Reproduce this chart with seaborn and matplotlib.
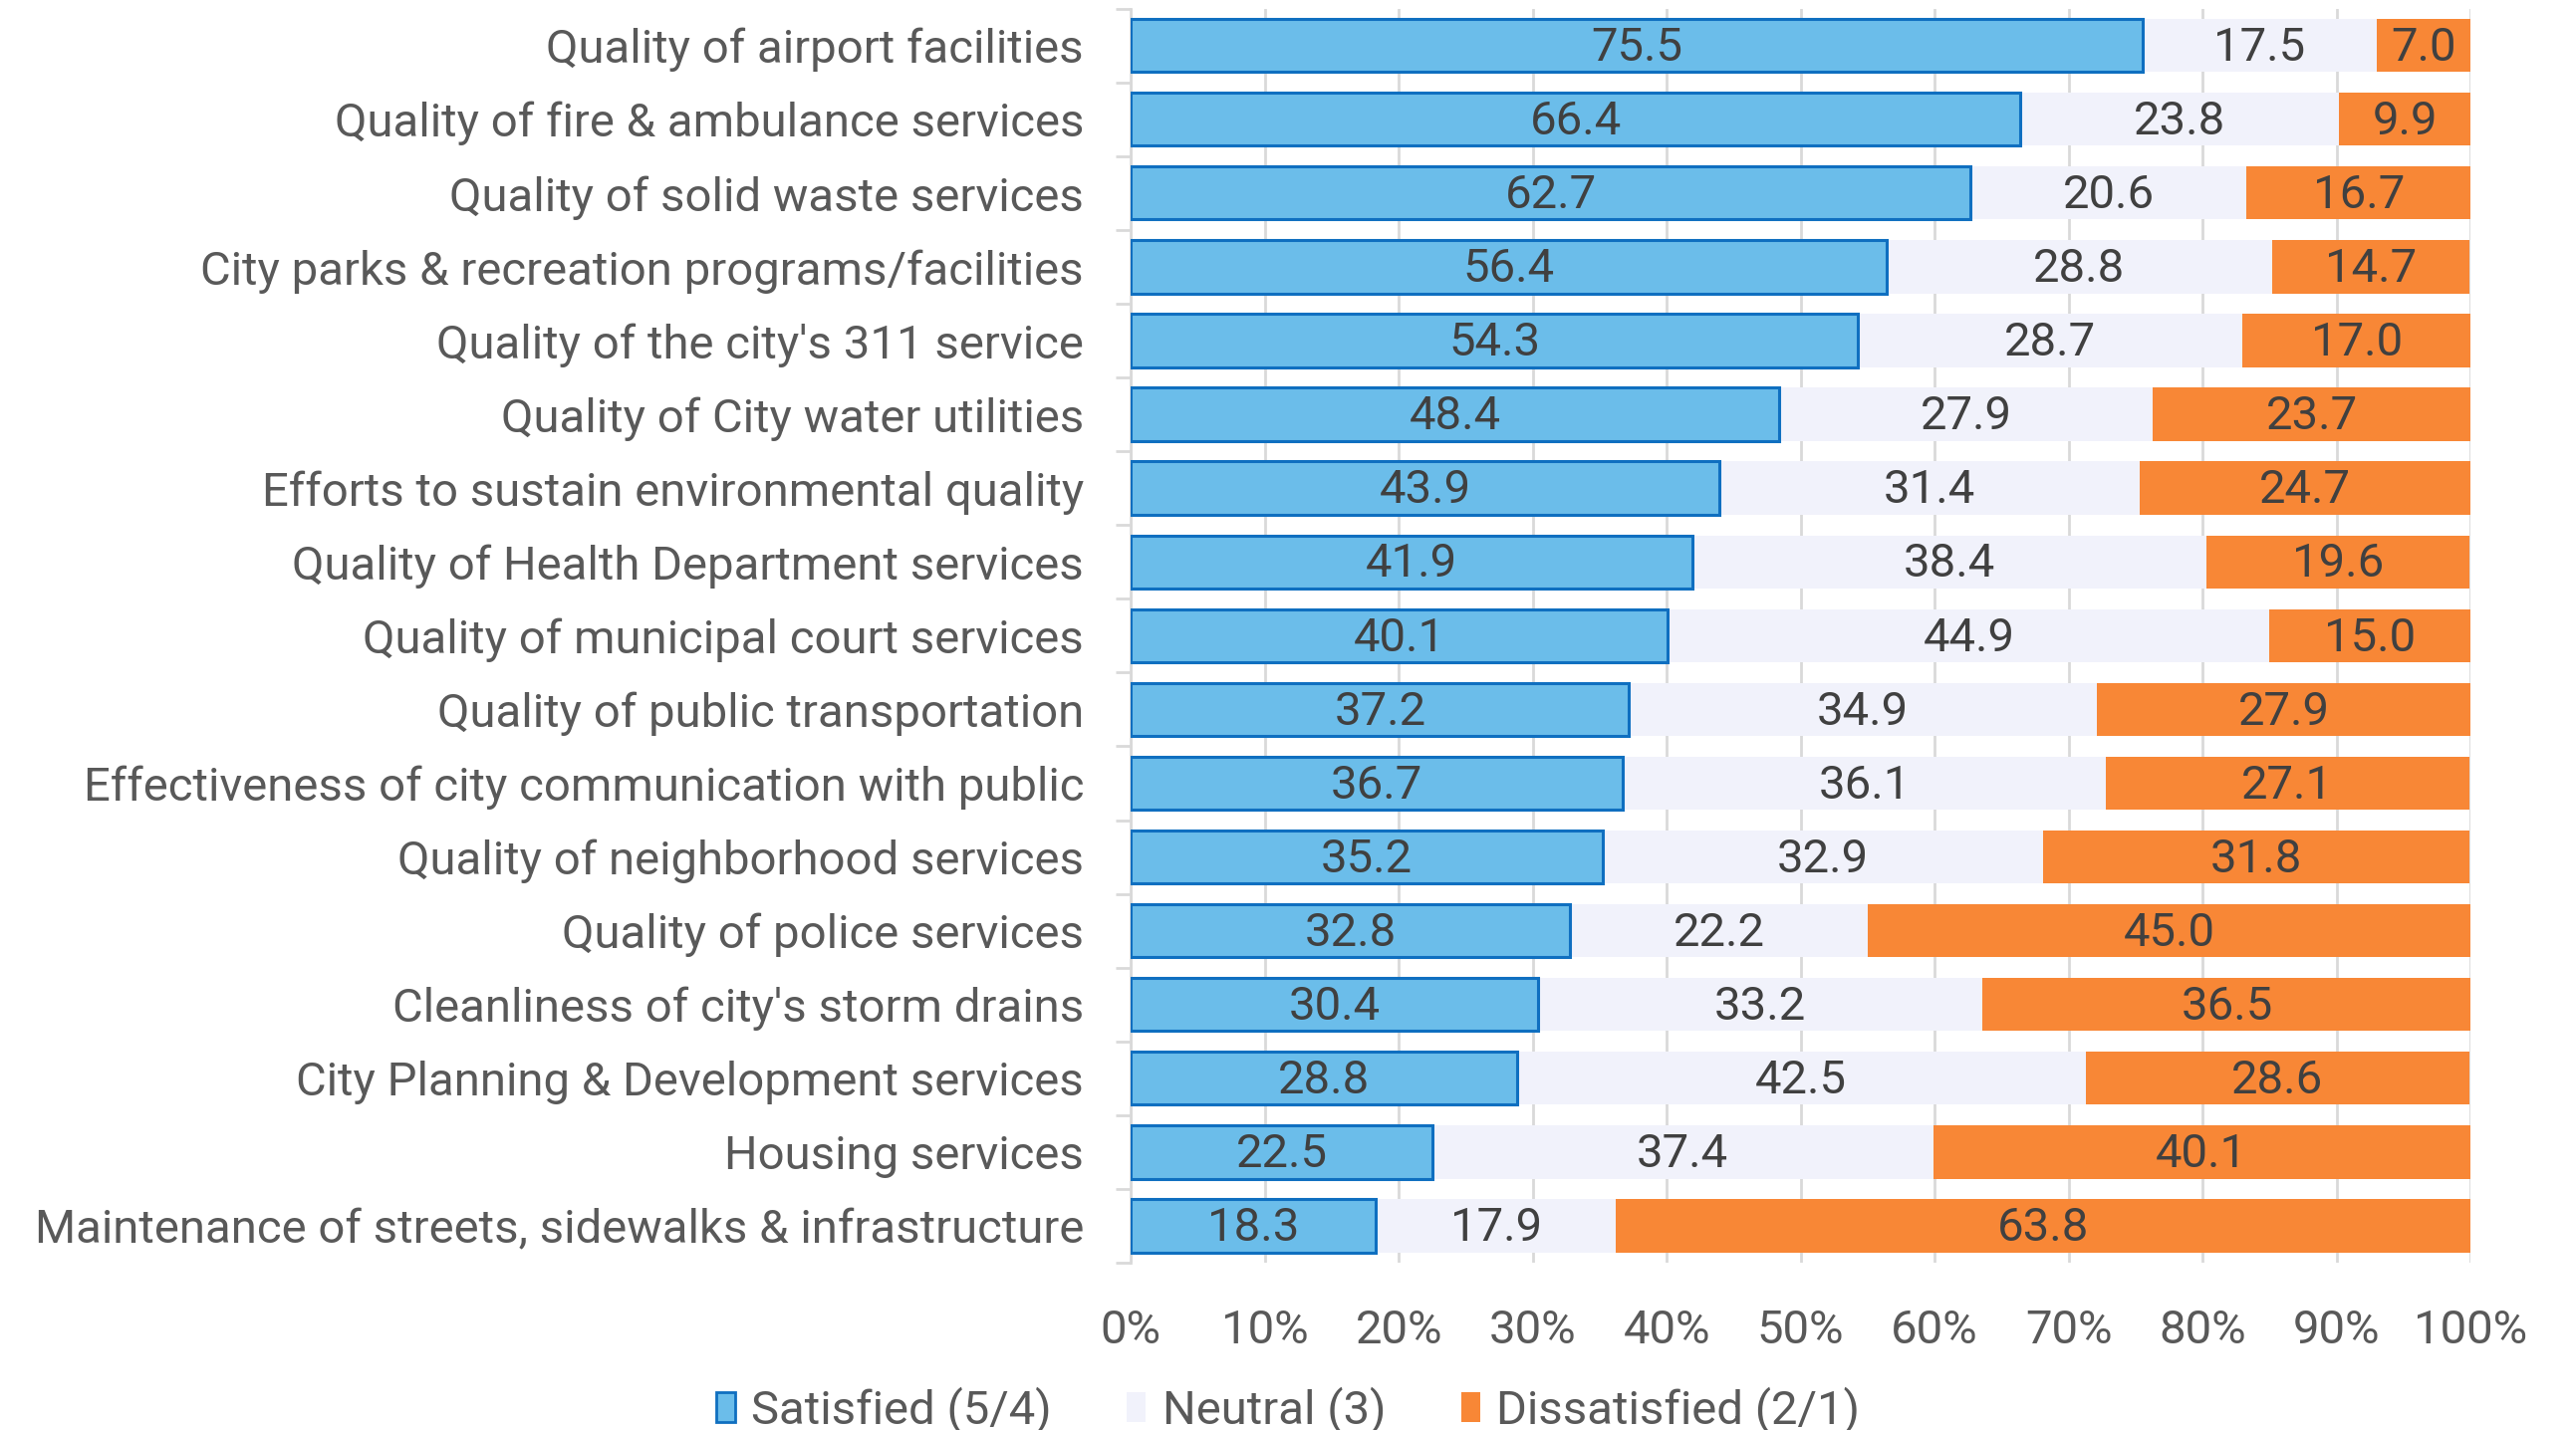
import numpy as np
import pandas as pd
import matplotlib
matplotlib.use("Agg")
import matplotlib.pyplot as plt
import seaborn as sns
from matplotlib.patches import Patch
from matplotlib.ticker import FixedLocator, PercentFormatter

# ---------------------------------------------------------------
# DATA
# ---------------------------------------------------------------
categories = [
    "Quality of airport facilities",
    "Quality of fire & ambulance services",
    "Quality of solid waste services",
    "City parks & recreation programs/facilities",
    "Quality of the city's 311 service",
    "Quality of City water utilities",
    "Efforts to sustain environmental quality",
    "Quality of Health Department services",
    "Quality of municipal court services",
    "Quality of public transportation",
    "Effectiveness of city communication with public",
    "Quality of neighborhood services",
    "Quality of police services",
    "Cleanliness of city's storm drains",
    "City Planning & Development services",
    "Housing services",
    "Maintenance of streets, sidewalks & infrastructure",
]
satisfied = [75.5, 66.4, 62.7, 56.4, 54.3, 48.4, 43.9, 41.9, 40.1, 37.2, 36.7, 35.2, 32.8, 30.4, 28.8, 22.5, 18.3]
neutral = [17.5, 23.8, 20.6, 28.8, 28.7, 27.9, 31.4, 38.4, 44.9, 34.9, 36.1, 32.9, 22.2, 33.2, 42.5, 37.4, 17.9]
dissatisfied = [7.0, 9.9, 16.7, 14.7, 17.0, 23.7, 24.7, 19.6, 15.0, 27.9, 27.1, 31.8, 45.0, 36.5, 28.6, 40.1, 63.8]
series_names = ["Satisfied (5/4)", "Neutral (3)", "Dissatisfied (2/1)"]

df = pd.DataFrame({
    "category": categories,
    "satisfied": satisfied,
    "neutral": neutral,
    "dissatisfied": dissatisfied,
})
df["sat_neu"] = df["satisfied"] + df["neutral"]
df["total"] = df["sat_neu"] + df["dissatisfied"]

C_SAT = "#6BBDEA"
C_SAT_EDGE = "#0F6FC0"
C_NEU = "#F1F2FB"
C_DIS = "#F88736"
TXT = "#404040"
TICK_TXT = "#595959"
GRID = "#D9D9D9"

sns.set_style("white")
plt.rcParams["font.family"] = ["Roboto", "DejaVu Sans"]

fig = plt.figure(figsize=(25.86, 14.36), dpi=100)
ax = fig.add_axes([0.439, 0.117, 0.52, 0.877])

# stacked bars by layering cumulative totals
sns.barplot(data=df, y="category", x="total", color=C_DIS, width=0.72,
            saturation=1, linewidth=0, ax=ax, zorder=2)
sns.barplot(data=df, y="category", x="sat_neu", color=C_NEU, width=0.72,
            saturation=1, linewidth=0, ax=ax, zorder=3)
sns.barplot(data=df, y="category", x="satisfied", color=C_SAT, width=0.72,
            saturation=1, linewidth=2.2, edgecolor=C_SAT_EDGE, ax=ax, zorder=4)

# segment labels
for i, row in df.iterrows():
    centers = [row["satisfied"] / 2,
               row["satisfied"] + row["neutral"] / 2,
               row["sat_neu"] + row["dissatisfied"] / 2]
    vals = [row["satisfied"], row["neutral"], row["dissatisfied"]]
    for cx, v in zip(centers, vals):
        ax.text(cx, i + 0.03, f"{v:.1f}", ha="center", va="center",
                fontsize=34, color=TXT, zorder=5)

# axes styling
ax.set_xlim(0, 100)
ax.set_ylim(len(categories) - 0.5, -0.5)
ax.set_xticks(np.arange(0, 101, 10))
ax.xaxis.set_major_formatter(PercentFormatter(decimals=0))
ax.set_xlabel("")
ax.set_ylabel("")
ax.grid(axis="x", color=GRID, linewidth=2, zorder=0)
ax.set_axisbelow(True)
for side in ["top", "right", "bottom"]:
    ax.spines[side].set_visible(False)
ax.spines["left"].set_color(GRID)
ax.spines["left"].set_linewidth(2)

ax.tick_params(axis="x", length=0, pad=33, labelsize=34, labelcolor=TICK_TXT)
ax.tick_params(axis="y", which="major", length=0, pad=34, labelsize=34,
               labelcolor=TICK_TXT)
for lbl in ax.get_yticklabels():
    lbl.set_y(lbl.get_position()[1])
    lbl.set_verticalalignment("center_baseline")
ax.yaxis.set_minor_locator(FixedLocator(np.arange(-0.5, len(categories), 1)))
ax.tick_params(axis="y", which="minor", length=11, width=2, color=GRID,
               left=True)

handles = [
    Patch(facecolor=C_SAT, edgecolor=C_SAT_EDGE, linewidth=2),
    Patch(facecolor=C_NEU, edgecolor="none"),
    Patch(facecolor=C_DIS, edgecolor="none"),
]
leg = fig.legend(handles, series_names, loc="center", bbox_to_anchor=(0.5, 0.014),
                 ncol=3, frameon=False, fontsize=34, handlelength=0.4,
                 handleheight=0.6, handletextpad=0.35, columnspacing=1.6,
                 borderpad=0)
for t in leg.get_texts():
    t.set_color(TICK_TXT)

fig.savefig("out.png", dpi=100)
